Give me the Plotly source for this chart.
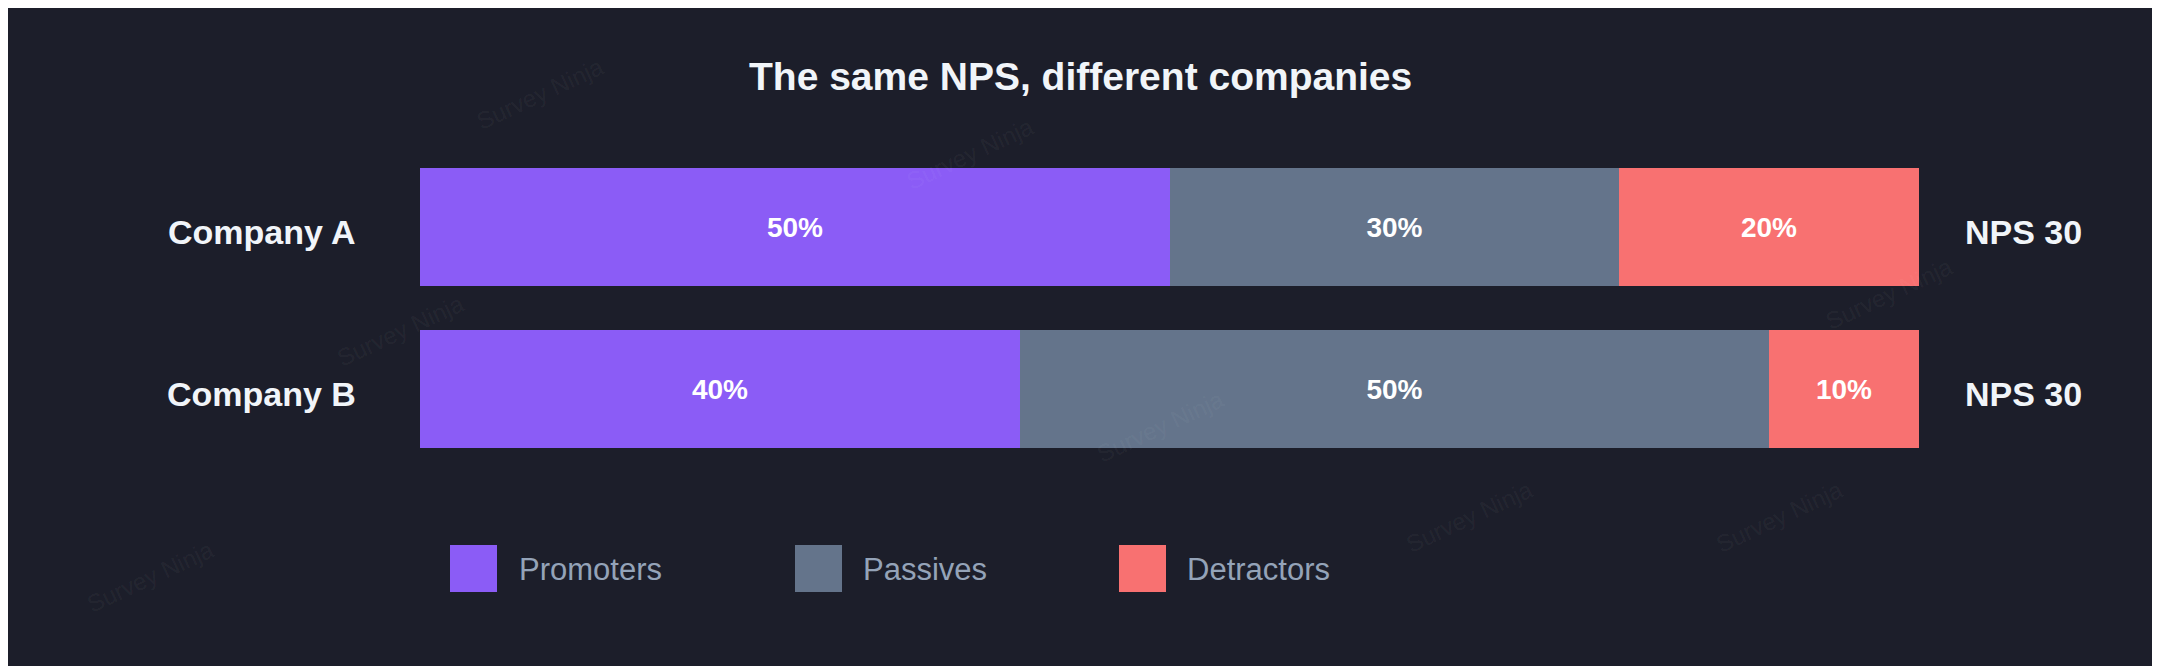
import plotly.graph_objects as go

companies = ["Company A", "Company B"]
segments = ["Promoters", "Passives", "Detractors"]
colors = ["#8b5cf6", "#64748b", "#f87171"]
values = {"Promoters": [50, 40], "Passives": [30, 50], "Detractors": [20, 10]}
nps_labels = ["NPS 30", "NPS 30"]

W, H = 2160, 666
OFF = 8
L, R, T, B = 420 - OFF, 241 + OFF, 168 - OFF, 218 + OFF
pw, ph = W - L - R, H - T - B
def px(x): return (x - OFF - L) / pw
def py(y): return (H - B - (y - OFF)) / ph

fig = go.Figure()
for s, c in zip(segments, colors):
    fig.add_trace(go.Bar(
        y=companies, x=values[s], orientation="h", name=s, marker_color=c,
        marker_line_width=0, width=0.73,
        text=[f"<b>{v}%</b>" for v in values[s]], textposition="inside", insidetextanchor="middle",
        textfont=dict(color="white", size=28, family="Liberation Sans"),
        showlegend=False, hoverinfo="skip"))

font = "Liberation Sans"
ann = []
for comp, lab in zip(companies, nps_labels):
    ann.append(dict(x=0, xref="paper", xanchor="right", xshift=-62, yshift=-5, y=comp, yref="y",
                    text=f"<b>{comp}</b>", showarrow=False,
                    font=dict(size=34, color="#f1f5f9", family=font)))
    ann.append(dict(x=1, xref="paper", xanchor="left", xshift=44, yshift=-5, y=comp, yref="y",
                    text=f"<b>{lab}</b>", showarrow=False,
                    font=dict(size=34, color="#f1f5f9", family=font)))
ann.append(dict(x=px(1080), xref="paper", y=py(76), yref="paper", yanchor="middle",
                text="<b>The same NPS, different companies</b>",
                showarrow=False, font=dict(size=39, color="#f1f5f9", family=font)))
shapes = []
leg = [(450, 517), (795, 861), (1119, 1185)]
for (sx, tx), s, c in zip(leg, segments, colors):
    shapes.append(dict(type="rect", xref="paper", yref="paper", x0=px(sx), x1=px(sx + 47),
                       y0=py(592), y1=py(545), fillcolor=c, line_width=0))
    ann.append(dict(x=px(tx), xref="paper", xanchor="left", y=py(569), yref="paper", yanchor="middle",
                    text=s, showarrow=False, font=dict(size=31, color="#94a3b8", family=font)))
for wx, wy in [(470, 50), (900, 110), (330, 330), (1160, 470), (1540, 560), (1850, 560), (1960, 250), (80, 620)]:
    ann.append(dict(x=px(wx), xref="paper", y=py(wy), yref="paper", text="Survey Ninja", textangle=-25,
                    showarrow=False, font=dict(size=24, color="rgba(255,255,255,0.05)", family=font)))

fig.update_layout(
    width=W, height=H, barmode="stack", bargap=0,
    margin=dict(l=L, r=R, t=T, b=B),
    paper_bgcolor="#1c1e2a", plot_bgcolor="#1c1e2a",
    xaxis=dict(range=[0, 100], visible=False, fixedrange=True),
    yaxis=dict(categoryorder="array", categoryarray=companies[::-1], range=[-0.365, 1.365],
               visible=False),
    annotations=ann, shapes=shapes,
)
fig.write_html("out.html")
